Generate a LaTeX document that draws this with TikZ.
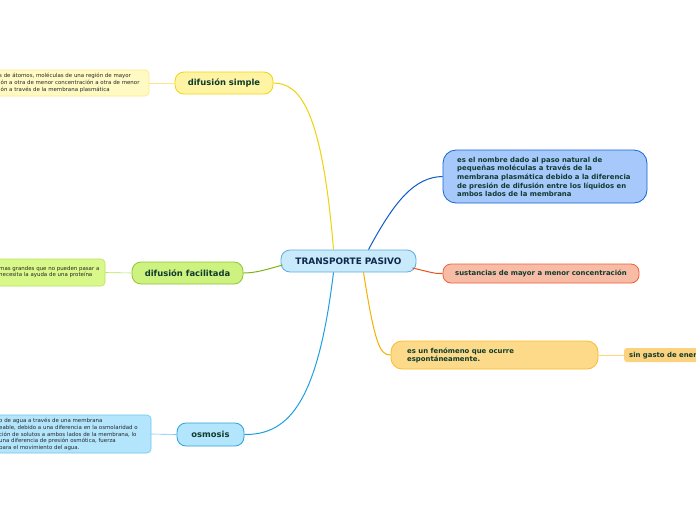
\documentclass[tikz,border=0pt]{standalone}
\usepackage{fontspec}
\setmainfont{DejaVu Sans}
\usetikzlibrary{calc}
\definecolor{txt}{HTML}{0E3B2E}
\definecolor{rootfill}{HTML}{C8EAFB}\definecolor{rootdraw}{HTML}{5BAEE0}\definecolor{roottxt}{HTML}{10284A}
\definecolor{ysfill}{HTML}{FFF4A3}\definecolor{ysdraw}{HTML}{EFD510}\definecolor{yline}{HTML}{F0D20A}
\definecolor{ylfill}{HTML}{FFF9C4}\definecolor{yldraw}{HTML}{FFE680}
\definecolor{gfill}{HTML}{CDF27F}\definecolor{gdraw}{HTML}{8FC43A}\definecolor{gline}{HTML}{7CB518}
\definecolor{glfill}{HTML}{D9F88A}\definecolor{gldraw}{HTML}{B6E35A}
\definecolor{bfill}{HTML}{B3E5FC}\definecolor{bdraw}{HTML}{29A3DC}\definecolor{bline}{HTML}{1EA0E0}
\definecolor{blfill}{HTML}{B3E5FC}\definecolor{bldraw}{HTML}{6EC6F0}
\definecolor{rbfill}{HTML}{A6C8FA}\definecolor{rbdraw}{HTML}{1565D8}\definecolor{rbline}{HTML}{0D5BC6}
\definecolor{sfill}{HTML}{F8BBA5}\definecolor{sdraw}{HTML}{EE6234}\definecolor{sline}{HTML}{E8501E}
\definecolor{ofill}{HTML}{FDDA8A}\definecolor{odraw}{HTML}{FBBC25}\definecolor{oline}{HTML}{F5B000}
\definecolor{sgfill}{HTML}{FDD27F}
\tikzset{
  topic/.style={rounded corners=9pt, line width=0.8pt, inner sep=0pt, font=\bfseries\fontsize{8.4}{10}\selectfont, text=txt},
  leaf/.style={rounded corners=4pt, line width=0.6pt, inner sep=0pt},
  smalltxt/.style={anchor=west, align=left, inner sep=0pt, font=\fontsize{5.45}{6.7}\selectfont, text=black!85},
  bigtxt/.style={anchor=west, align=left, inner sep=0pt, font=\bfseries\fontsize{6.9}{8.7}\selectfont, text=txt},
  conn/.style={line width=1pt},
  thin/.style={line width=0.6pt}
}
\begin{document}
\begin{tikzpicture}[x=1pt,y=-1pt]
\useasboundingbox (0,0) rectangle (696,520);
\fill[white] (0,0) rectangle (696,520);
\clip (0,0) rectangle (696,520);
% root
\node[topic, draw=rootdraw, fill=rootfill, minimum width=135pt, minimum height=22pt, text=roottxt, font=\bfseries\fontsize{8.9}{10}\selectfont] (root) at (348.5,261) {TRANSPORTE PASIVO};
% left main topics
\node[topic, draw=ysdraw, fill=ysfill, minimum width=98pt, minimum height=22pt] (ds) at (224,83) {difusión simple};
\node[topic, draw=gdraw, fill=gfill, minimum width=111pt, minimum height=22pt] (df) at (187.5,273) {difusión facilitada};
\node[topic, draw=bdraw, fill=bfill, minimum width=67pt, minimum height=23pt] (os) at (210.5,434.5) {osmosis};
% left leaf boxes
\node[leaf, draw=yldraw, fill=ylfill, minimum width=169pt, minimum height=26pt] (dsl) at (64.5,83) {};
\node[smalltxt] (dslt) at (-1,83) {s de átomos, moléculas de una región de mayor\\ión a otra de menor concentración a otra de menor\\ión a través de la membrana plasmática};
\node[leaf, draw=gldraw, fill=glfill, minimum width=125pt, minimum height=27pt] (dfl) at (42.5,272.5) {};
\node[smalltxt] (dflt) at (-1,272) {mas grandes que no pueden pasar a\\ necesita la ayuda de una proteína};
\node[leaf, draw=bldraw, fill=blfill, minimum width=171pt, minimum height=38pt] (osl) at (65.5,434) {};
\node[smalltxt] (oslt) at (-1,434.5) {o de agua a través de una membrana\\eable, debido a una diferencia en la osmolaridad o\\ción de solutos a ambos lados de la membrana, lo\\ una diferencia de presión osmótica, fuerza\\para el movimiento del agua.};
% right nodes
\node[leaf, rounded corners=13pt, draw=rbdraw, fill=rbfill, line width=0.8pt, minimum width=204pt, minimum height=53pt] (rb) at (545,176.5) {};
\node[bigtxt] (rbt) at (457,177) {es el nombre dado al paso natural de\\pequeñas moléculas a través de la\\membrana plasmática debido a la diferencia\\de presión de difusión entre los líquidos en\\ambos lados de la membrana};
\node[leaf, rounded corners=8pt, draw=sdraw, fill=sfill, line width=0.8pt, minimum width=196pt, minimum height=19pt] (sa) at (541,273.5) {};
\node[bigtxt] (sat) at (455,273.5) {sustancias de mayor a menor concentración};
\node[leaf, rounded corners=11pt, draw=odraw, fill=ofill, line width=0.8pt, minimum width=207pt, minimum height=28pt] (or) at (494.5,355) {};
\node[bigtxt] (ort) at (407,355.5) {es un fenómeno que ocurre\\espontáneamente.};
\node[leaf, rounded corners=3pt, fill=sgfill, minimum width=90pt, minimum height=14pt] (sg) at (669,355) {};
\node[bigtxt] (sgt) at (629,355.5) {sin gasto de ener};
% connectors
\draw[conn, yline] ($(root.north)+(-15,0)$) .. controls (322,110) and (300,83) .. (ds.east);
\draw[conn, gline] ($(root.west)+(2,4)$) .. controls (265,270) and (255,273) .. (df.east);
\draw[conn, bline] ($(root.south)+(-15,0)$) .. controls (318,400) and (290,435) .. (os.east);
\draw[conn, rbline] ($(root.north)+(20,0)$) .. controls (395,200) and (415,177) .. (rb.west);
\draw[conn, sline] ($(root.east)+(-4,7)$) .. controls (430,272) and (435,274) .. (sa.west);
\draw[conn, oline] ($(root.south)+(15,0)$) .. controls (375,345) and (380,355) .. (or.west);
\draw[thin, yldraw] (dsl.east) -- (ds.west);
\draw[thin, gldraw] (dfl.east) -- (df.west);
\draw[thin, bldraw] (osl.east) -- (os.west);
\draw[thin, odraw!60] (or.east) -- (sg.west);
\end{tikzpicture}
\end{document}
